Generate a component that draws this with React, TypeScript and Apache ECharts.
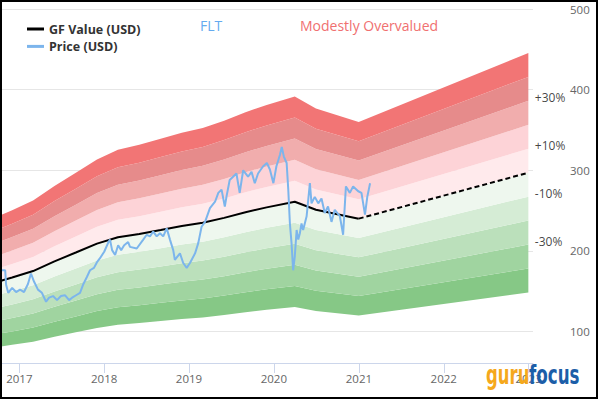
import React, { useEffect, useRef } from 'react';
import * as echarts from 'echarts';

// GF Value (USD) — solid up to the split date, projected (dashed) after
const gfDates = ['2016-10-01','2016-10-14','2016-12-01','2017-03-01','2017-06-01','2017-09-01','2017-12-01','2018-03-01','2018-06-01','2018-09-01','2018-12-01','2019-03-01','2019-06-01','2019-09-01','2019-12-01','2020-03-31','2020-06-30','2020-12-31','2022-12-31'];
const gfValues = [161,163,167,175,187,198,209,217,221,226,231,235,241,248,254,261,251,240,297];
const gfSplitDate = '2020-12-31';

// Price (USD)
const priceDates = ['2016-10-14','2016-11-01','2016-11-05','2016-11-14','2016-12-01','2016-12-18','2017-01-04','2017-01-21','2017-02-07','2017-02-20','2017-03-05','2017-03-22','2017-04-08','2017-04-26','2017-05-09','2017-05-26','2017-06-12','2017-06-29','2017-07-17','2017-08-03','2017-08-16','2017-09-02','2017-09-19','2017-10-02','2017-10-19','2017-11-01','2017-11-18','2017-12-01','2017-12-14','2018-01-01','2018-01-18','2018-01-26','2018-02-04','2018-02-17','2018-03-02','2018-03-15','2018-03-28','2018-04-14','2018-04-22','2018-05-21','2018-06-18','2018-07-03','2018-07-17','2018-07-31','2018-08-15','2018-08-29','2018-09-12','2018-09-27','2018-10-11','2018-10-25','2018-11-01','2018-11-23','2018-12-07','2018-12-22','2019-01-05','2019-01-27','2019-02-10','2019-02-24','2019-03-11','2019-04-01','2019-04-23','2019-05-07','2019-05-21','2019-06-04','2019-06-11','2019-06-25','2019-07-24','2019-08-07','2019-08-22','2019-09-12','2019-09-27','2019-10-11','2019-10-25','2019-11-16','2019-12-02','2019-12-15','2019-12-30','2020-01-12','2020-01-27','2020-02-04','2020-02-13','2020-02-25','2020-03-03','2020-03-10','2020-03-17','2020-03-24','2020-03-31','2020-04-08','2020-04-15','2020-04-22','2020-04-29','2020-05-06','2020-05-21','2020-06-04','2020-06-11','2020-06-25','2020-07-10','2020-07-24','2020-08-07','2020-08-21','2020-09-05','2020-09-19','2020-10-11','2020-10-25','2020-11-06','2020-11-23','2020-12-07','2020-12-29','2021-01-12','2021-01-27','2021-02-06','2021-02-18'];
const priceValues = [176,176,158,148,154,149,152,149,159,172,162,152,148,137,142,144,139,144,145,139,142,145,148,158,168,176,179,186,191,199,210,214,201,195,207,201,207,211,205,203,214,220,218,224,218,222,218,228,214,201,189,197,185,179,185,197,210,230,236,253,261,272,276,255,267,288,296,272,300,292,298,284,296,305,309,301,284,305,319,329,317,309,276,234,210,176,193,226,214,222,234,226,243,284,259,267,259,265,247,255,236,251,243,220,280,272,280,274,272,245,267,284];

// Valuation bands: fraction of GF Value, bottom to top
const bandStep = 0.1;
const bandBase = 0.5;
const bandColors = ['#86c886','#a0d4a0','#bbe0bb','#d5ecd5','#eef7ee','#ffeaec','#fdd3d7','#f1adad','#e68b8b','#f27575'];
const pctLabels = ['+30%','+10%','-10%','-30%'];
const pctValues = [0.3, 0.1, -0.1, -0.3];

const yTicks = [100, 200, 300, 400, 500];
const xMin = '2016-10-14';
const xMax = '2023-01-20';
const yMin = 61;
const yMax = 500;
const YEAR_MS = 365 * 24 * 3600 * 1000;

export default function App() {
  const ref = useRef<HTMLDivElement>(null);
  useEffect(() => {
    const chart = echarts.init(ref.current as HTMLDivElement, null, { renderer: 'svg' });
    const font = "'Open Sans', sans-serif";
    const pairs = (f: number) => gfDates.map((d, i) => [d, gfValues[i] * f]);
    const series: any[] = [];
    series.push({
      name: 'bandBase', type: 'line', stack: 'band', data: pairs(bandBase), symbol: 'none',
      lineStyle: { width: 0, opacity: 0 }, silent: true, z: 2,
      markLine: {
        silent: true, z: 1, symbol: ['none', 'none'], label: { show: false },
        lineStyle: { color: '#e6e6e6', width: 1, type: 'solid' },
        data: yTicks.map((v) => ({ yAxis: v })),
      },
    });
    bandColors.forEach((c, i) => {
      series.push({
        name: 'band' + i, type: 'line', stack: 'band', data: pairs(bandStep), symbol: 'none',
        lineStyle: { width: 0, opacity: 0 }, areaStyle: { color: c, opacity: 1 }, silent: true, z: 2,
      });
    });
    const gfAll = gfDates.map((d, i) => [d, gfValues[i]]);
    series.push({
      name: 'GF Value (USD)', type: 'line', data: gfAll.filter((p) => (p[0] as string) <= gfSplitDate),
      symbol: 'none', color: '#000', lineStyle: { color: '#000', width: 2 }, z: 4, silent: true,
    });
    series.push({
      name: 'gfProj', type: 'line', data: gfAll.filter((p) => (p[0] as string) >= gfSplitDate),
      symbol: 'none', color: '#000', lineStyle: { color: '#000', width: 2, type: [5, 3] }, z: 4, silent: true,
    });
    series.push({
      name: 'Price (USD)', type: 'line', data: priceDates.map((d, i) => [d, priceValues[i]]),
      symbol: 'none', color: '#7cb5ec', lineStyle: { color: '#7cb5ec', width: 2 }, z: 5, silent: true,
    });
    const last = gfDates.length - 1;
    series.push({
      name: 'pct', type: 'scatter', symbol: 'circle', symbolSize: 1, itemStyle: { color: 'rgba(0,0,0,0)' }, silent: true, z: 6,
      data: pctValues.map((p) => [gfDates[last], gfValues[last] * (1 + p)]),
      label: {
        show: true, position: 'right', distance: 6, offset: [0, -3],
        formatter: (p: any) => pctLabels[p.dataIndex], color: '#111', fontSize: 12, fontFamily: font,
      },
    });

    const option: any = {
      animation: false,
      grid: { left: 1, right: 67, top: 9, bottom: 57, containLabel: false },
      xAxis: {
        type: 'time', min: xMin, max: xMax, minInterval: YEAR_MS, maxInterval: YEAR_MS * 1.01, splitNumber: 7,
        axisLine: { show: true, lineStyle: { color: '#ccd6eb', width: 1 } },
        axisTick: { show: true, length: 10, lineStyle: { color: '#ccd6eb' } },
        axisLabel: {
          formatter: '{yyyy}', showMinLabel: false, showMaxLabel: false, hideOverlap: false,
          color: '#666', fontSize: 11.5, fontFamily: font, margin: 9,
        },
        splitLine: { show: false },
      },
      yAxis: {
        type: 'value', position: 'right', min: yMin, max: yMax,
        axisLine: { show: false }, axisTick: { show: false }, splitLine: { show: false },
        axisLabel: { customValues: yTicks, color: '#666', fontSize: 11.5, fontFamily: font, margin: 37 },
      },
      legend: {
        data: ['GF Value (USD)', 'Price (USD)'], orient: 'vertical', left: 22, top: 17,
        icon: 'rect', itemWidth: 17, itemHeight: 3, itemGap: 3.4, selectedMode: false,
        textStyle: { fontFamily: font, fontWeight: 'bold', fontSize: 12.5, color: '#333', lineHeight: 14 },
      },
      series,
      graphic: [
        { type: 'rect', shape: { x: 1, y: 1, width: 596, height: 397 }, style: { fill: 'none', stroke: '#000', lineWidth: 2 }, z: 100, silent: true },
        { type: 'text', x: 200, y: 25, style: { text: 'FLT', fill: '#64aaef', fontSize: 14, fontFamily: font, verticalAlign: 'middle' }, z: 100 },
        { type: 'text', x: 300, y: 25, style: { text: 'Modestly Overvalued', fill: '#f07070', fontSize: 14, fontFamily: font, verticalAlign: 'middle' }, z: 100 },
        { type: 'text', x: 486, y: 374, scaleX: 0.61, style: { text: 'guru', fill: '#f5a81c', fontSize: 27, fontWeight: 'bold', fontFamily: 'DejaVu Sans', verticalAlign: 'middle' }, z: 100 },
        { type: 'text', x: 529, y: 374, scaleX: 0.62, style: { text: 'focus', fill: '#1c5ea8', fontSize: 27, fontWeight: 'bold', fontFamily: 'DejaVu Sans', verticalAlign: 'middle' }, z: 100 },
      ],
    };
    chart.setOption(option);
    return () => chart.dispose();
  }, []);
  return (
    <div style={{ position: 'fixed', left: 0, top: 0, width: 600, height: 420, background: '#fff' }}>
      <div ref={ref} style={{ width: 600, height: 420 }} />
    </div>
  );
}
